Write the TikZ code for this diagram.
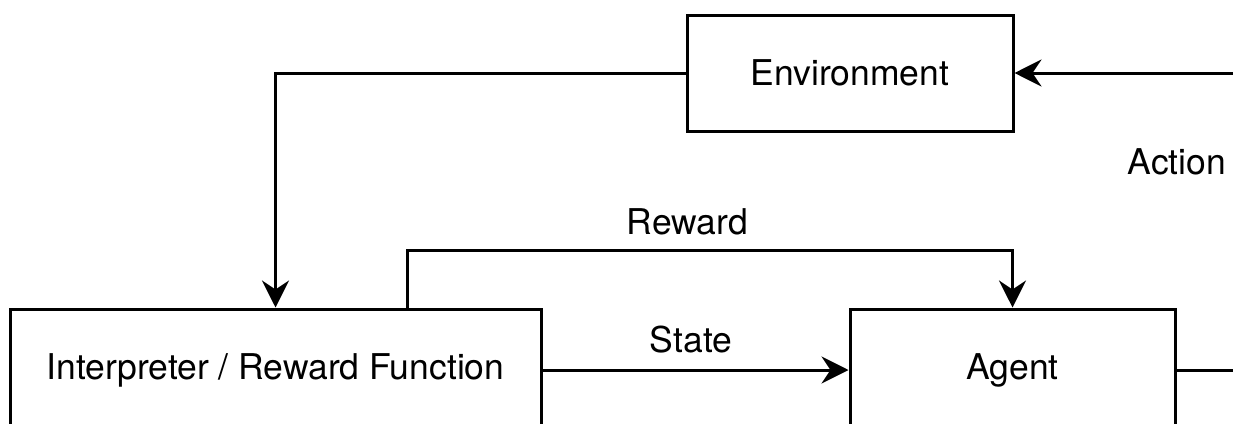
\documentclass[tikz,border=0pt]{standalone}
\usepackage{fontspec}
\setmainfont{TeX Gyre Heros}
\usetikzlibrary{arrows.meta}
\begin{document}
\begin{tikzpicture}[x=1pt,y=-1pt,
  box/.style={draw, line width=3pt, minimum width=#1, inner sep=0pt, font=\fontsize{35.5}{42}\selectfont},
  link/.style={line width=3pt, -{Stealth[length=27pt,width=27pt,inset=9pt]}},
  plain/.style={line width=3pt},
  lbl/.style={font=\fontsize{35.5}{42}\selectfont, inner sep=0pt}]
\useasboundingbox (0,0) rectangle (1233,423);
\clip (0,0) rectangle (1233,423);
% blocks
\node[box=326pt, minimum height=116pt] (env) at (850,73) {Environment};
\node[box=531pt, minimum height=122pt] (interp) at (275.5,370) {Interpreter / Reward Function};
\node[box=325pt, minimum height=122pt] (agent) at (1012.5,370) {Agent};
% loose ends at the right border
\coordinate (actin) at (1245,73);
\coordinate (actout) at (1245,370);
\coordinate (rwd) at (407,309);
% connectors
\draw[link] (actin) -- (env.east);
\draw[plain] (agent.east) -- (actout);
\draw[link] (env.west) -| (interp.north);
\draw[link] (rwd) |- (1012.5,250) -- (agent.north);
\draw[link] (interp.east) -- (agent.west);
% labels
\node[lbl] (lact) at (1177,162) {Action};
\node[lbl] (lrwd) at (687.5,222) {Reward};
\node[lbl] (lst) at (691,340) {State};
\end{tikzpicture}
\end{document}
